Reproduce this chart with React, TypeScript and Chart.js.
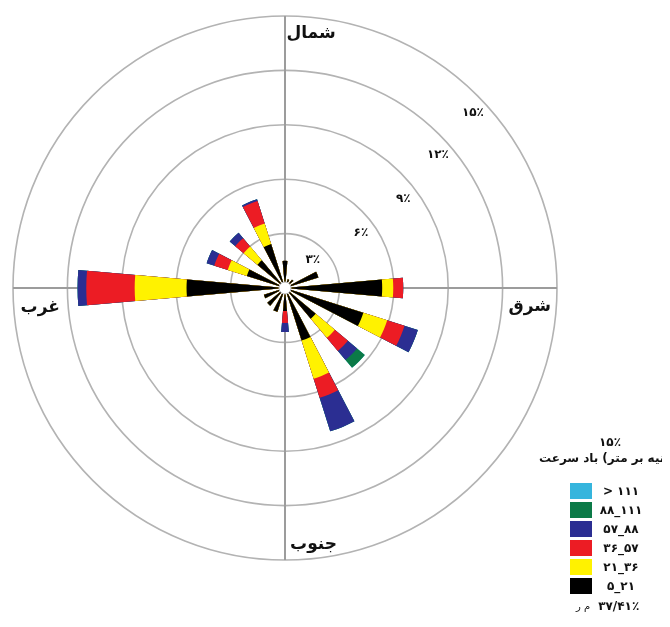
import React, { useEffect, useRef } from 'react';
import { Chart, registerables } from 'chart.js';

Chart.register(...registerables);

// 16 compass directions, clockwise from North
const directions = ['N', 'NNE', 'NE', 'ENE', 'E', 'ESE', 'SE', 'SSE', 'S', 'SSW', 'SW', 'WSW', 'W', 'WNW', 'NW', 'NNW'];

// frequency (%) per direction for each wind-speed class
const freq5to21 = [1.5, 0.5, 0.6, 1.93, 5.36, 4.53, 2.21, 3.04, 1.27, 1.38, 1.27, 1.22, 5.43, 2.21, 1.99, 2.54];
const freq21to36 = [0, 0, 0, 0, 0.61, 1.38, 1.38, 2.21, 0, 0, 0, 0, 2.86, 1.1, 0.99, 1.19];
const freq36to57 = [0, 0, 0, 0, 0.55, 1.0, 0.94, 1.1, 0.66, 0, 0, 0, 2.67, 0.78, 0.61, 1.3];
const freq57to88 = [0, 0, 0, 0, 0, 0.77, 0.66, 1.94, 0.5, 0, 0, 0, 0.48, 0.44, 0.39, 0.1];
const freq88to111 = [0, 0, 0, 0, 0, 0, 0.56, 0, 0, 0, 0, 0, 0, 0, 0, 0];
const freqOver111 = [0, 0, 0, 0, 0, 0, 0, 0, 0, 0, 0, 0, 0, 0, 0, 0];

const speedClassLabels = ['۵_۲۱', '۲۱_۳۶', '۳۶_۵۷', '۵۷_۸۸', '۸۸_۱۱۱', '> ۱۱۱'];
const speedClassColors = ['#000000', '#fff200', '#ec1c24', '#2b2e92', '#0b7a47', '#35b5dd'];

const radialTicks = [3, 6, 9, 12, 15];
const radialMax = 15;
const cardinalNames = ['شمال', 'شرق', 'جنوب', 'غرب'];
const legendScaleLabel = '۱۵٪';
const legendTitleWords = ['سرعت', 'باد'];
const legendUnitWords = ['متر', 'بر', 'ثانیه'];
const calmLabel = 'ر م';
const calmPercent = '۳۷/۴۱٪';

const PETAL_DEG = 10;
const FONT = '"DejaVu Sans", sans-serif';

const faDigits = (s: string) => s.replace(/\d/g, (d) => '۰۱۲۳۴۵۶۷۸۹'[+d]);

const bands = [freq5to21, freq21to36, freq36to57, freq57to88, freq88to111, freqOver111];

function buildDatasets() {
  const cum = directions.map(() => 0);
  return bands.map((band, j) => {
    const data: number[] = [];
    directions.forEach((_, k) => {
      cum[k] += band[k];
      data.push(+cum[k].toFixed(3));
      data.push(0); // gap between petals
    });
    return {
      label: speedClassLabels[j],
      data,
      backgroundColor: speedClassColors[j],
      borderWidth: 0,
      angle: (ctx: any) => (ctx.dataIndex % 2 === 0 ? PETAL_DEG : 22.5 - PETAL_DEG),
    };
  });
}

const ringLabelAngles = [45, 36, 37, 41, 43];

const decorPlugin = {
  id: 'roseDecor',
  beforeDatasetsDraw(chart: any) {
    const s = chart.scales.r;
    const { ctx } = chart;
    const cx = s.xCenter, cy = s.yCenter, R = s.drawingArea;
    ctx.save();
    ctx.strokeStyle = '#9c9c9c';
    ctx.lineWidth = 2;
    ctx.beginPath();
    ctx.moveTo(cx - R, cy);
    ctx.lineTo(cx + R, cy);
    ctx.moveTo(cx, cy - R);
    ctx.lineTo(cx, cy + R);
    ctx.stroke();
    ctx.restore();
  },
  afterDatasetsDraw(chart: any) {
    const s = chart.scales.r;
    const { ctx } = chart;
    const cx = s.xCenter, cy = s.yCenter, R = s.drawingArea;
    ctx.save();
    // calm circle
    ctx.beginPath();
    ctx.arc(cx, cy, 6, 0, Math.PI * 2);
    ctx.fillStyle = '#ffffff';
    ctx.fill();
    ctx.strokeStyle = '#bdbdbd';
    ctx.lineWidth = 1;
    ctx.stroke();
    // ring labels
    ctx.fillStyle = '#111';
    ctx.font = `bold 12px ${FONT}`;
    ctx.textAlign = 'center';
    ctx.textBaseline = 'middle';
    radialTicks.forEach((v, i) => {
      const a = (ringLabelAngles[i] * Math.PI) / 180;
      const d = s.getDistanceFromCenterForValue(v) - 15;
      ctx.fillText(faDigits(String(v)) + '٪', cx + d * Math.cos(a), cy - d * Math.sin(a));
    });
    // cardinal names
    ctx.font = `bold 17px ${FONT}`;
    const place = [
      [0.096, -0.935],
      [0.9, 0.07],
      [0.105, 0.945],
      [-0.9, 0.072],
    ];
    cardinalNames.forEach((name, i) => {
      ctx.fillText(name, cx + place[i][0] * R, cy + place[i][1] * R);
    });
    ctx.restore();
  },
};

const ltrOverride: React.CSSProperties = { unicodeBidi: 'bidi-override', direction: 'ltr' };

export default function App() {
  const ref = useRef<HTMLCanvasElement>(null);
  useEffect(() => {
    const chart = new Chart(ref.current!, {
      type: 'polarArea',
      data: {
        labels: directions.flatMap((d) => [d, '']),
        datasets: buildDatasets() as any,
      },
      options: {
        responsive: false,
        maintainAspectRatio: false,
        animation: false,
        layout: { padding: { left: 5, top: 8, right: 105, bottom: 59 } },
        plugins: { legend: { display: false }, tooltip: { enabled: false } },
        scales: {
          r: {
            min: 0,
            max: radialMax,
            startAngle: -PETAL_DEG / 2,
            ticks: { display: false, stepSize: 3 },
            grid: { circular: true, color: '#b3b3b3', lineWidth: 1.6 },
            angleLines: { display: false },
            pointLabels: { display: false },
          },
        },
      } as any,
      plugins: [decorPlugin],
    });
    return () => chart.destroy();
  }, []);

  const rowsTopDown = speedClassLabels.map((l, i) => ({ l, c: speedClassColors[i] })).reverse();
  const item: React.CSSProperties = { display: 'block' };

  return (
    <div style={{ position: 'relative', width: 654, height: 611, overflow: 'hidden', fontFamily: FONT, color: '#111' }}>
      <canvas ref={ref} width={654} height={611} style={{ display: 'block', width: 654, height: 611 }} />
      <div style={{ position: 'absolute', left: 582, top: 426, width: 40, textAlign: 'center', fontSize: 12, fontWeight: 'bold', lineHeight: '16px' }}>
        <span style={ltrOverride}>{legendScaleLabel}</span>
      </div>
      <div style={{ position: 'absolute', left: 531, top: 441, display: 'flex', flexDirection: 'row', direction: 'ltr', columnGap: 4, whiteSpace: 'nowrap', fontSize: 12, fontWeight: 'bold', lineHeight: '18px' }}>
        {legendTitleWords.map((w, i) => (
          <span key={i} style={item}>{w}</span>
        ))}
        <span style={{ display: 'flex', flexDirection: 'row', direction: 'ltr', columnGap: 4 }}>
          {legendUnitWords.map((w, i) => (
            <span key={i} style={{ display: 'flex', direction: 'ltr' }}>
              {i === 0 ? <span style={item}>(</span> : null}
              <span style={item}>{w}</span>
              {i === legendUnitWords.length - 1 ? <span style={item}>)</span> : null}
            </span>
          ))}
        </span>
      </div>
      {rowsTopDown.map((r, i) => (
        <React.Fragment key={i}>
          <div style={{ position: 'absolute', left: 562, top: 483 + 19 * i - 8, width: 22, height: 16, background: r.c }} />
          <div style={{ position: 'absolute', left: 587, top: 483 + 19 * i - 9, width: 52, textAlign: 'center', fontSize: 12, fontWeight: 'bold', lineHeight: '18px', whiteSpace: 'nowrap' }}>
            <span style={ltrOverride}>{r.l}</span>
          </div>
        </React.Fragment>
      ))}
      <div style={{ position: 'absolute', left: 568, top: 589, fontSize: 12, fontWeight: 'bold', lineHeight: '18px', whiteSpace: 'nowrap', direction: 'ltr' }}>
        <span style={{ ...ltrOverride, fontWeight: 'normal', fontSize: 10 }}>{calmLabel}</span>
        <span style={{ ...ltrOverride, marginLeft: 8 }}>{calmPercent}</span>
      </div>
    </div>
  );
}
